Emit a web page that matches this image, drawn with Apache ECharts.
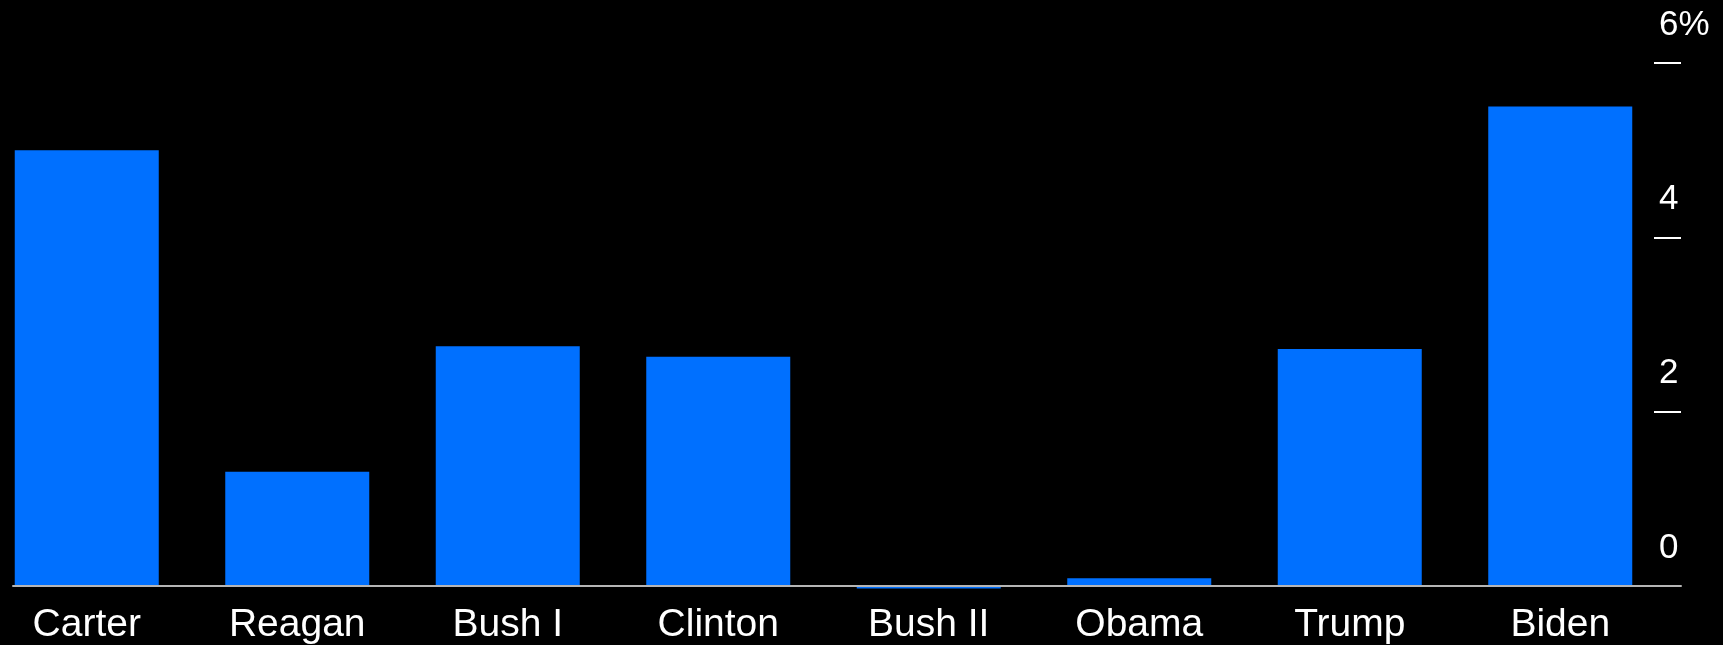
<!DOCTYPE html>
<html>
<head>
<meta charset="utf-8">
<script src="https://cdn.jsdelivr.net/npm/echarts@6/dist/echarts.min.js"></script>
<style>
html,body{margin:0;padding:0;background:#000;}
#c{width:1723px;height:645px;}
</style>
</head>
<body>
<div id="c"></div>
<script>
const categories = ['Carter', 'Reagan', 'Bush I', 'Clinton', 'Bush II', 'Obama', 'Trump', 'Biden'];
const values = [5.0, 1.31, 2.75, 2.63, -0.03, 0.09, 2.72, 5.5];
const yTicks = [0, 2, 4, 6];

const chart = echarts.init(document.getElementById('c'));
const font = '"Liberation Sans", Arial, Helvetica, sans-serif';
chart.setOption({
  backgroundColor: '#000',
  animation: false,
  grid: [
    { left: -18.5, right: 57.5, top: 63, bottom: 59, outerBoundsMode: 'none', containLabel: false },
    { left: 13, right: 42, top: 63, bottom: 59, outerBoundsMode: 'none', containLabel: false }
  ],
  xAxis: [
    {
      type: 'category', gridIndex: 0, data: categories,
      axisLine: { show: false }, axisTick: { show: false },
      axisLabel: { color: '#fff', fontSize: 39, fontFamily: font, margin: 20, interval: 0 }
    },
    {
      type: 'category', gridIndex: 1, data: categories, z: 10,
      axisLine: { show: true, onZero: false, lineStyle: { color: '#b5b5b5', width: 2 } },
      axisTick: { show: false }, axisLabel: { show: false }, splitLine: { show: false }
    }
  ],
  yAxis: [
    {
      type: 'value', gridIndex: 0, min: yTicks[0], max: yTicks[yTicks.length - 1], interval: 2,
      show: false
    },
    {
      type: 'value', gridIndex: 1, position: 'right',
      min: yTicks[0], max: yTicks[yTicks.length - 1], interval: 2,
      axisLine: { show: false, onZero: false },
      splitLine: { show: false },
      axisTick: { show: true, inside: true, length: 27, lineStyle: { color: '#fff', width: 2 } },
      axisLabel: {
        inside: true, align: 'left', verticalAlign: 'bottom', lineHeight: 76,
        margin: 22, color: '#fff', fontSize: 35, fontFamily: font,
        formatter: v => v === yTicks[yTicks.length - 1] ? v + '%' : String(v)
      }
    }
  ],
  series: [
    {
      type: 'bar', xAxisIndex: 0, yAxisIndex: 0, data: values,
      barWidth: 144, clip: false,
      itemStyle: { color: '#0070ff' }
    }
  ]
});
</script>
</body>
</html>
